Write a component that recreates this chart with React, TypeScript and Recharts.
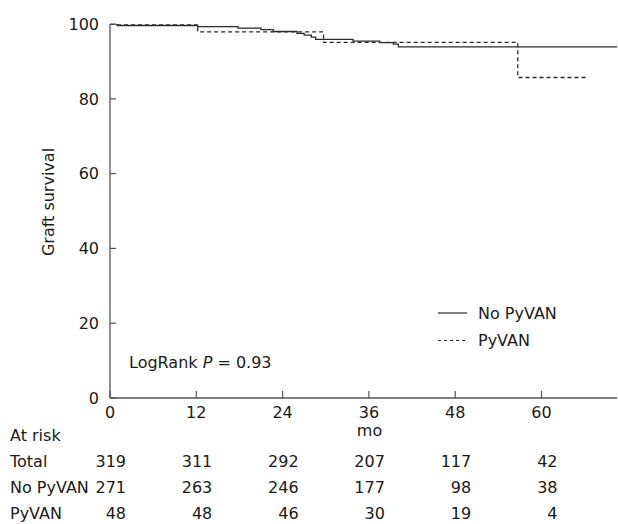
import React from 'react';
import { LineChart, Line, XAxis, YAxis, Legend } from 'recharts';

// ---- data ----
const seriesNames = ['No PyVAN', 'PyVAN'];
const noPyvanTime = [0, 1, 12.2, 17.8, 21, 22.7, 26, 27, 28, 28.6, 33.8, 37.5, 39.4, 40.1, 70.5];
const noPyvanSurv = [100, 99.6, 99.3, 98.9, 98.5, 98.0, 97.5, 97.0, 96.5, 95.9, 95.4, 95.0, 94.6, 93.9, 93.9];
const pyvanTime = [0, 12.2, 29.7, 56.7, 66.3];
const pyvanSurv = [100, 97.9, 95.1, 85.7, 85.7];

const xTicks = [0, 12, 24, 36, 48, 60];
const yTicks = [0, 20, 40, 60, 80, 100];
const riskRowNames = ['Total', 'No PyVAN', 'PyVAN'];
const totalRisk = [319, 311, 292, 207, 117, 42];
const noPyvanRisk = [271, 263, 246, 177, 98, 38];
const pyvanRisk = [48, 48, 46, 30, 19, 4];
const xLabel = 'mo';
const yLabel = 'Graft survival';
const riskTitle = 'At risk';
const pText = 'LogRank ';
const pValue = ' = 0.93';

const noPyvanData = noPyvanTime.map((t, i) => ({ t, s: noPyvanSurv[i] }));
const pyvanData = pyvanTime.map((t, i) => ({ t, s: pyvanSurv[i] }));
const riskData = xTicks.map((t, i) => ({ t, total: totalRisk[i], nopy: noPyvanRisk[i], py: pyvanRisk[i] }));

const FONT = '"DejaVu Sans", Verdana, sans-serif';
const TXT = '#1a1a1a';
const AX = '#555';
const LINE = '#2a2a2a';
const FS = 16;

const XTick = (props: any) => {
  const { x, y, payload } = props;
  return (
    <g>
      <line x1={x} x2={x} y1={y} y2={y - 7} stroke={AX} strokeWidth={1.2} />
      <text x={x} y={y + 20} textAnchor="middle" fontSize={FS} fill={TXT} fontFamily={FONT}>
        {payload.value}
      </text>
    </g>
  );
};

const YTick = (props: any) => {
  const { x, y, payload } = props;
  return (
    <g>
      <line x1={x} x2={x + 6} y1={y} y2={y} stroke={AX} strokeWidth={1.2} />
      <text x={x - 11} y={y} dy="0.36em" textAnchor="end" fontSize={FS} fill={TXT} fontFamily={FONT}>
        {payload.value}
      </text>
    </g>
  );
};

const makeRiskTick = (values: number[], rowName: string, showTitle: boolean) => (props: any) => {
  const { x, y, payload } = props;
  const idx = xTicks.indexOf(payload.value);
  return (
    <g>
      {idx === 0 && (
        <text x={10} y={y + 25} fontSize={FS} fill={TXT} fontFamily={FONT}>
          {rowName}
        </text>
      )}
      {idx === 0 && showTitle && (
        <text x={10} y={y - 1} fontSize={FS} fill={TXT} fontFamily={FONT}>
          {riskTitle}
        </text>
      )}
      <text x={x + 16} y={y + 25} textAnchor="end" fontSize={FS} fill={TXT} fontFamily={FONT}>
        {idx >= 0 ? values[idx] : ''}
      </text>
    </g>
  );
};

const TotalTick = makeRiskTick(totalRisk, riskRowNames[0], true);
const NoPyTick = makeRiskTick(noPyvanRisk, riskRowNames[1], false);
const PyTick = makeRiskTick(pyvanRisk, riskRowNames[2], false);

const dashes = ['', '4 3'];

const LegendContent = () => (
  <svg width={188} height={56}>
    {seriesNames.map((n, i) => {
      const cy = 15 + i * 27.5;
      return (
        <g key={n}>
          <line x1={8} x2={37} y1={cy} y2={cy} stroke={LINE} strokeWidth={1.2} strokeDasharray={i === 1 ? '3 3' : undefined} />
          <text x={48} y={cy} dy="0.36em" fontSize={FS} fill={TXT} fontFamily={FONT}>
            {n}
          </text>
        </g>
      );
    })}
  </svg>
);

const MoLabel = (props: any) => {
  const vb = props.viewBox || {};
  return (
    <text x={vb.x + vb.width / 2 + 6} y={vb.y + 38} textAnchor="middle" fontSize={FS} fill={TXT} fontFamily={FONT}>
      {xLabel}
    </text>
  );
};

const riskAxisCommon = {
  type: 'number' as const,
  dataKey: 't',
  domain: [0, 70.5],
  ticks: xTicks,
  allowDataOverflow: true,
  height: 26,
  tickSize: 0,
  tickMargin: 0,
  tickLine: false,
  axisLine: false,
  interval: 0 as const,
};

export default function App() {
  return (
    <div style={{ position: 'absolute', left: 0, top: 0, width: 618, height: 524, background: '#fff' }}>
      <LineChart width={618} height={524} margin={{ top: 24, right: 1, bottom: 4, left: 50 }}>
        <XAxis
          xAxisId="x0main"
          dataKey="t"
          type="number"
          domain={[0, 70.5]}
          ticks={xTicks}
          allowDataOverflow
          height={44}
          tickSize={0}
          tickMargin={0}
          tickLine={false}
          axisLine={{ stroke: AX, strokeWidth: 1.3 }}
          tick={XTick}
          interval={0}
          label={<MoLabel />}
        />
        <XAxis xAxisId="x1total" {...riskAxisCommon} tick={TotalTick} />
        <XAxis xAxisId="x2nopy" {...riskAxisCommon} tick={NoPyTick} />
        <XAxis xAxisId="x3py" {...riskAxisCommon} tick={PyTick} />
        <YAxis
          yAxisId="surv"
          type="number"
          domain={[0, 100]}
          ticks={yTicks}
          allowDataOverflow
          width={60}
          tickSize={0}
          tickMargin={0}
          tickLine={false}
          axisLine={{ stroke: AX, strokeWidth: 1.3 }}
          tick={YTick}
          interval={0}
        />
        <YAxis yAxisId="risk" type="number" domain={[0, 400]} orientation="right" width={0} hide />
        <Legend
          layout="horizontal"
          verticalAlign="middle"
          align="center"
          content={<LegendContent />}
          wrapperStyle={{ left: 430, top: 298, width: 188, height: 56 }}
        />
        <Line xAxisId="x0main" yAxisId="surv" data={noPyvanData} dataKey="s" name={seriesNames[0]} type="stepAfter" stroke={LINE} strokeWidth={1.3} dot={false} isAnimationActive={false} strokeDasharray={dashes[0] || undefined} />
        <Line xAxisId="x0main" yAxisId="surv" data={pyvanData} dataKey="s" name={seriesNames[1]} type="stepAfter" stroke={LINE} strokeWidth={1.3} dot={false} isAnimationActive={false} strokeDasharray={dashes[1]} />
        <Line xAxisId="x1total" yAxisId="risk" data={riskData} dataKey="total" stroke="none" dot={false} legendType="none" isAnimationActive={false} />
        <Line xAxisId="x2nopy" yAxisId="risk" data={riskData} dataKey="nopy" stroke="none" dot={false} legendType="none" isAnimationActive={false} />
        <Line xAxisId="x3py" yAxisId="risk" data={riskData} dataKey="py" stroke="none" dot={false} legendType="none" isAnimationActive={false} />
      </LineChart>
      <svg width={618} height={524} style={{ position: 'absolute', left: 0, top: 0, pointerEvents: 'none' }}>
        <text transform="rotate(-90, 48, 202)" x={48} y={202} dy="0.36em" textAnchor="middle" fontSize={FS} fill={TXT} fontFamily={FONT}>
          {yLabel}
        </text>
        <text x={129} y={368} fontSize={FS} fill={TXT} fontFamily={FONT}>
          {pText}
          <tspan fontStyle="italic">P</tspan>
          {pValue}
        </text>
      </svg>
    </div>
  );
}
